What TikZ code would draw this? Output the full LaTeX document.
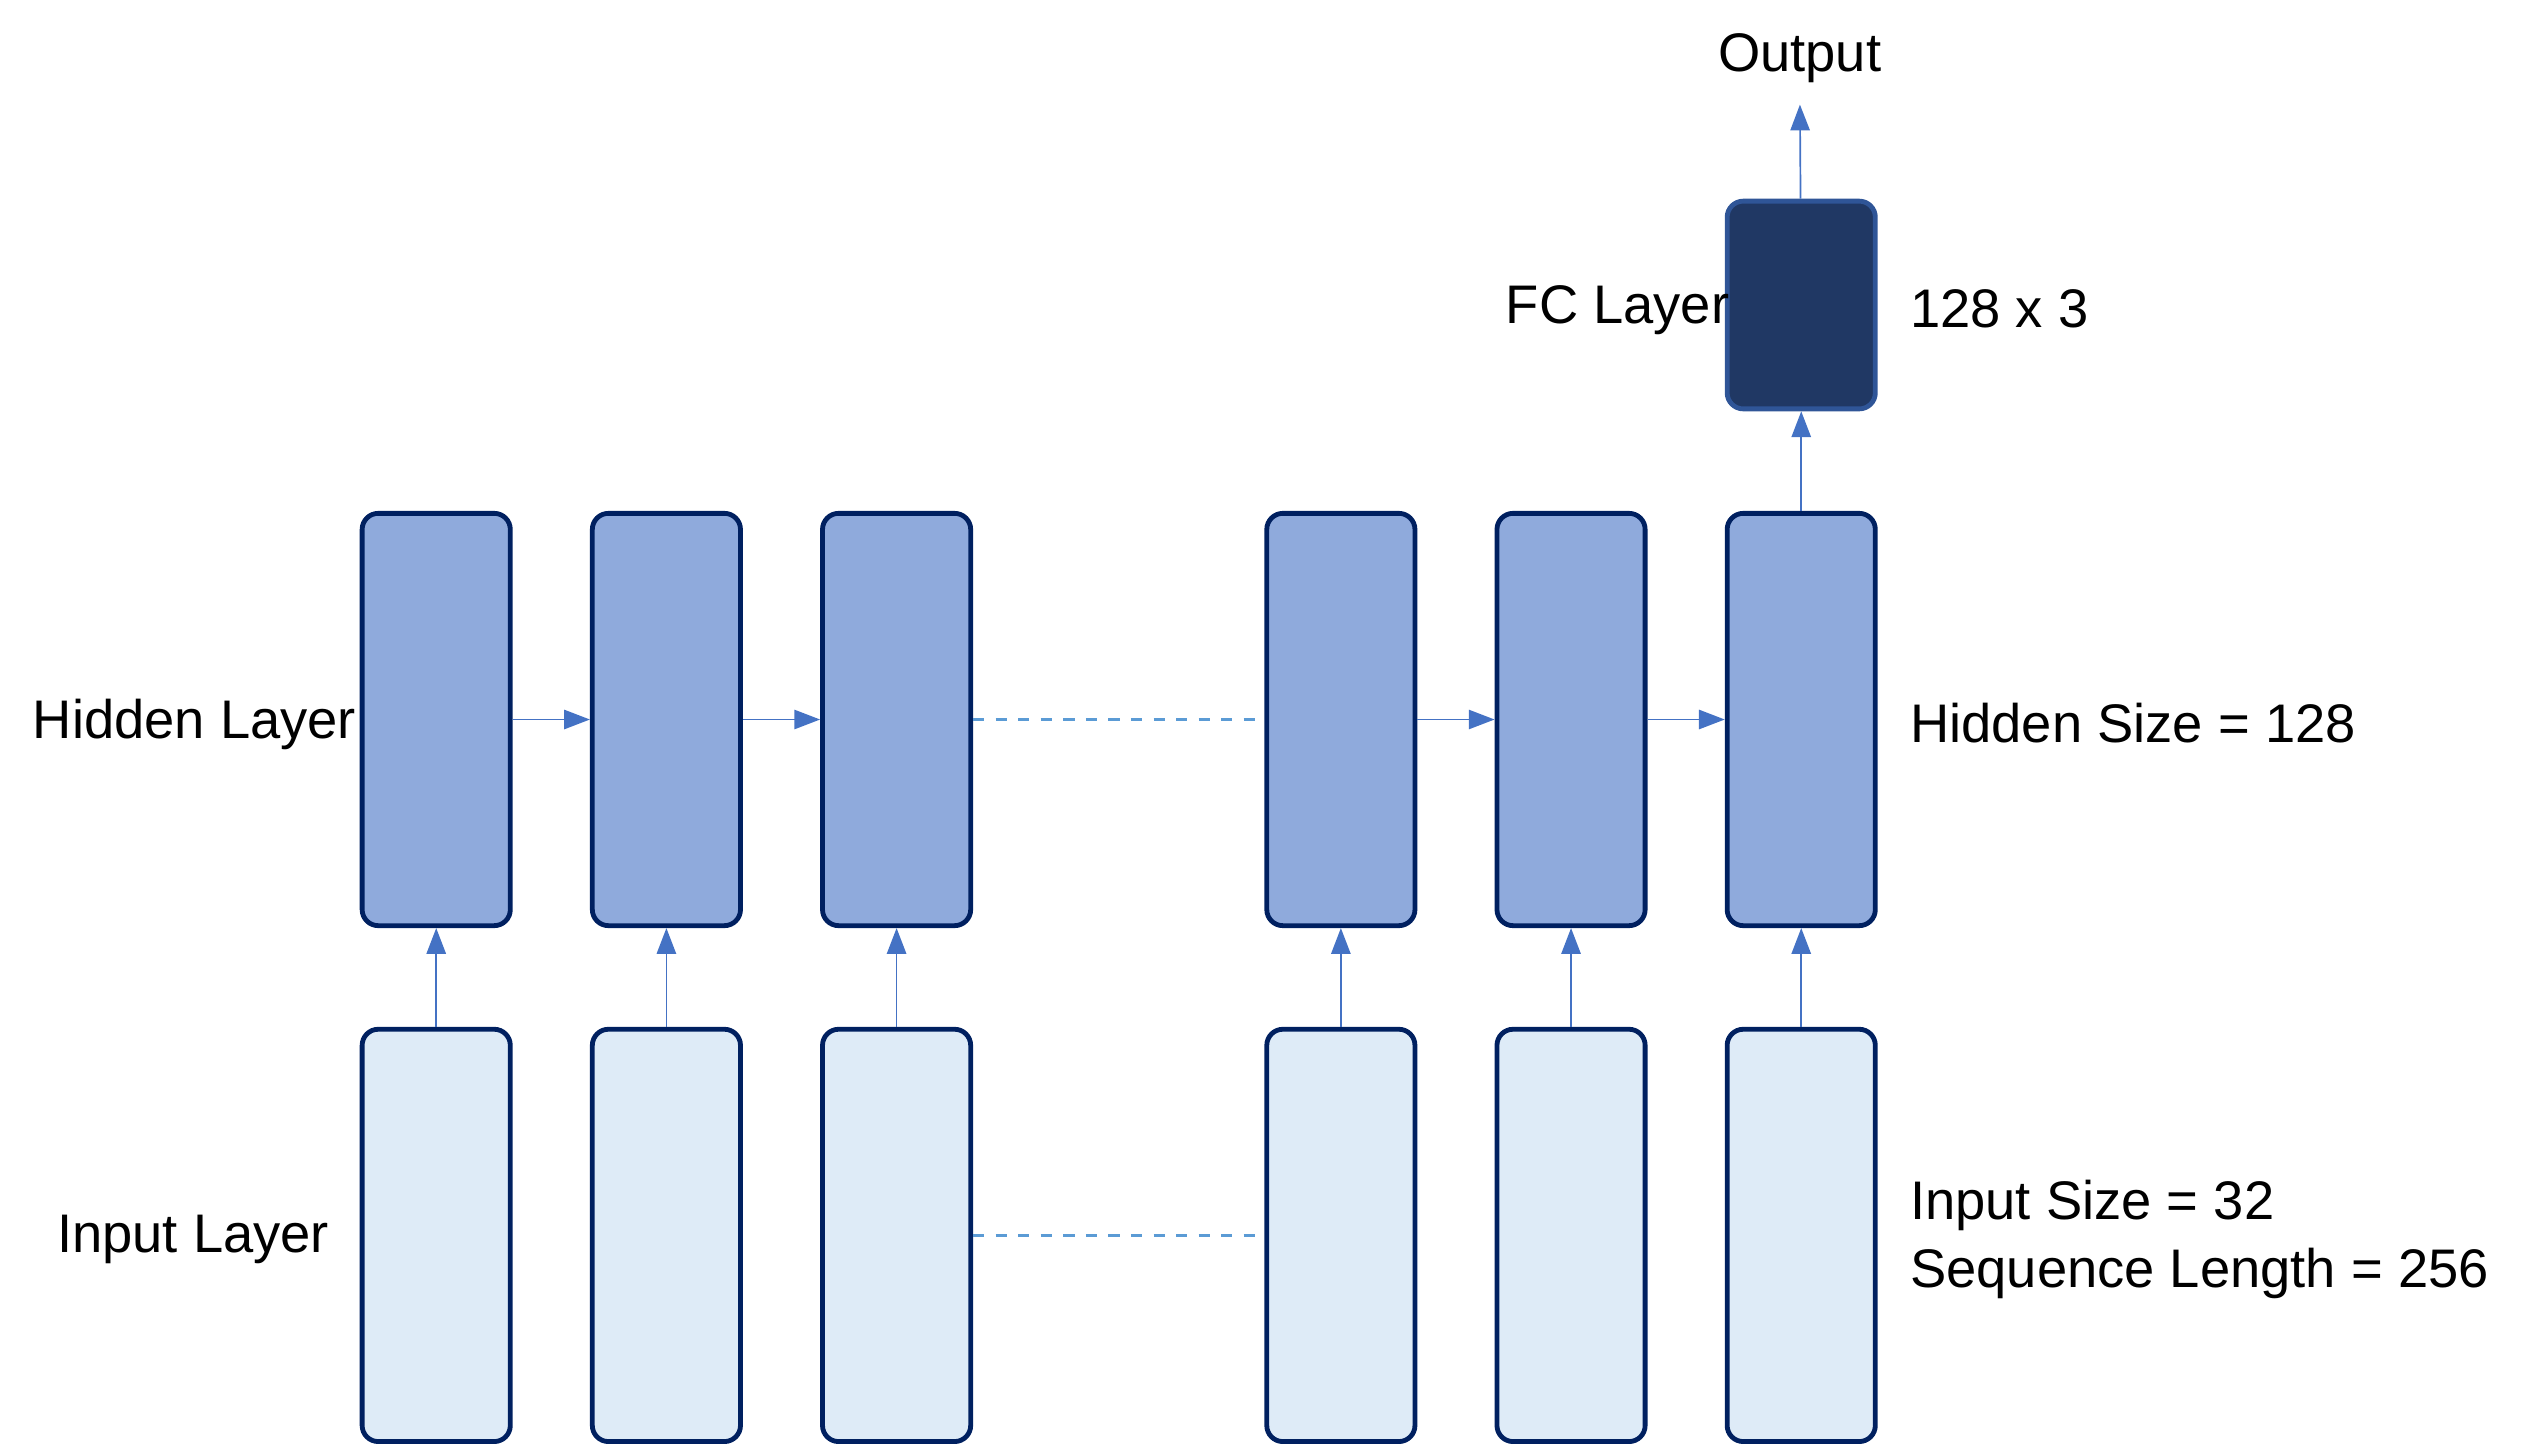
\documentclass[tikz,border=0pt]{standalone}
\usepackage{fontspec}
\setmainfont{Liberation Sans}
\usepackage{xcolor}
\usetikzlibrary{arrows.meta}

\definecolor{boxline}{HTML}{002060}
\definecolor{hiddenfill}{HTML}{8FAADC}
\definecolor{inputfill}{HTML}{DEEBF7}
\definecolor{fcfill}{HTML}{203864}
\definecolor{fcline}{HTML}{2F5597}
\definecolor{arrowblue}{HTML}{4472C4}
\definecolor{dashblue}{HTML}{5B9BD5}

\begin{document}
\begin{tikzpicture}[
            x=0.01cm, y=-0.01cm,
            hidden/.style = {rectangle, rounded corners=0.1cm, draw=boxline, line width=0.85pt, fill=hiddenfill, minimum width=0.92cm, minimum height=2.56cm, inner sep=0pt},
            input/.style = {hidden, fill=inputfill},
            fc/.style = {hidden, draw=fcline, fill=fcfill, minimum height=1.29cm},
            label/.style = {font=\fontsize{9.6}{11.9}\selectfont, inner sep=0pt},
            flow/.style = {-{Triangle[length=0.16cm, width=0.12cm]}, draw=arrowblue, line width=0.3pt},
            gap/.style = {draw=dashblue, line width=0.6pt, dash pattern=on 0.07cm off 0.07cm},
        ]
            \useasboundingbox (0,0) rectangle (1568,898);

            % Hidden cells in a row
            \node[hidden] (h1) at (271,447) {};
            \node[hidden] (h2) at (414,447) {};
            \node[hidden] (h3) at (557,447) {};
            \node[hidden] (h4) at (833,447) {};
            \node[hidden] (h5) at (976,447) {};
            \node[hidden] (h6) at (1119,447) {};

            % Input cells below them
            \node[input] (i1) at (271,767.5) {};
            \node[input] (i2) at (414,767.5) {};
            \node[input] (i3) at (557,767.5) {};
            \node[input] (i4) at (833,767.5) {};
            \node[input] (i5) at (976,767.5) {};
            \node[input] (i6) at (1119,767.5) {};

            % Fully connected layer and output
            \node[fc] (fc) at (1119,189.5) {};
            \node[label] (output) at (1118,36) {Output};

            % Layer names and sizes
            \node[label, anchor=east] (hiddenlbl) at (222,450) {Hidden Layer};
            \node[label] (inputlbl) at (120,770) {Input Layer};
            \node[label, anchor=east] (fclbl) at (1075,193) {FC Layer};
            \node[label, anchor=west] (fcsize) at (1186,192) {128 x 3};
            \node[label, anchor=west] (hiddensize) at (1186,449) {Hidden Size = 128};
            \node[label, anchor=west, align=left] (inputsize) at (1186,770) {Input Size = 32\\Sequence Length = 256};

            % Inputs feed the hidden cells
            \draw[flow] (i1) -- (h1);
            \draw[flow] (i2) -- (h2);
            \draw[flow] (i3) -- (h3);
            \draw[flow] (i4) -- (h4);
            \draw[flow] (i5) -- (h5);
            \draw[flow] (i6) -- (h6);

            % Hidden state passed along
            \draw[flow] (h1) -- (h2);
            \draw[flow] (h2) -- (h3);
            \draw[flow] (h4) -- (h5);
            \draw[flow] (h5) -- (h6);

            % Skipped steps
            \draw[gap] (h3) -- (h4);
            \draw[gap] (i3) -- (i4);

            % Last hidden cell to FC to output
            \draw[flow] (h6) -- (fc);
            \draw[flow, shorten >=0.13cm] (fc) -- (output);
        \end{tikzpicture}
\end{document}
